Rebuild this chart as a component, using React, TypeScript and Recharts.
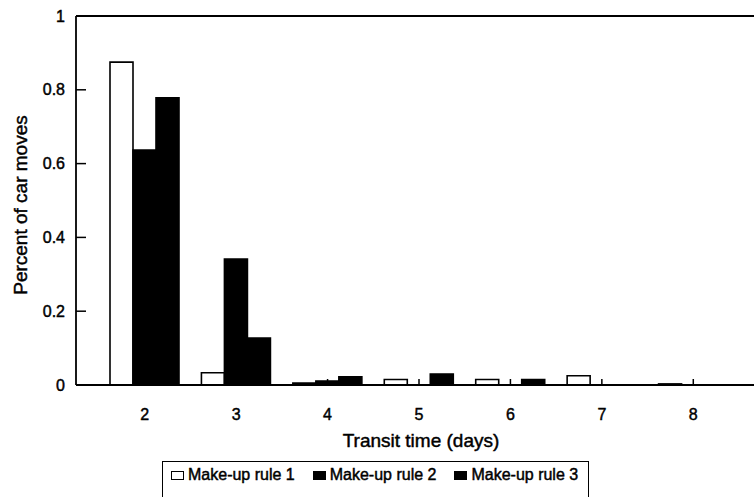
import { BarChart, Bar, XAxis, YAxis, ReferenceLine } from "recharts";

const DAYS = ["2", "3", "4", "5", "6", "7", "8"];
const RULE_1 = [0.875, 0.033, 0.005, 0.015, 0.015, 0.025, 0.003];
const RULE_2 = [0.637, 0.341, 0.011, 0, 0, 0, 0];
const RULE_3 = [0.778, 0.127, 0.022, 0.03, 0.015, 0, 0];
const Y_TICKS = [0, 0.2, 0.4, 0.6, 0.8, 1];
const SERIES = [
  { key: "rule1", label: "Make-up rule 1", fill: "#fff" },
  { key: "rule2", label: "Make-up rule 2", fill: "#000" },
  { key: "rule3", label: "Make-up rule 3", fill: "#000" },
];

const data = DAYS.map((d, i) => ({
  day: d,
  rule1: RULE_1[i],
  rule2: RULE_2[i],
  rule3: RULE_3[i],
}));

const FONT = '"Liberation Sans", Arial, sans-serif';
// scanned original has heavy-looking type; thicken slightly
const HEAVY = { WebkitTextStroke: "0.45px #000" } as const;

function YTick(props: any) {
  const { x, y, payload } = props;
  // x is the label anchor; the axis line sits 8px to the right
  return (
    <g>
      <line x1={x + 8} x2={x + 18} y1={y} y2={y} stroke="#000" strokeWidth={1.5} />
      <text
        x={x - 3}
        y={y}
        textAnchor="end"
        dominantBaseline="central"
        fontSize={16}
        fill="#000"
        stroke="#000"
        strokeWidth={0.45}
        fontFamily={FONT}
      >
        {String(payload.value)}
      </text>
    </g>
  );
}

function XTick(props: any) {
  const { x, y, payload } = props;
  return (
    <g>
      <line x1={x} x2={x} y1={y} y2={y - 6} stroke="#000" strokeWidth={1.5} />
      <text
        x={x}
        y={y + 29}
        textAnchor="middle"
        dominantBaseline="central"
        fontSize={16}
        fill="#000"
        stroke="#000"
        strokeWidth={0.45}
        fontFamily={FONT}
      >
        {payload.value}
      </text>
    </g>
  );
}

export default function App() {
  return (
    <div
      style={{
        position: "fixed",
        left: 0,
        top: 0,
        width: 754,
        height: 497,
        overflow: "hidden",
        background: "#fff",
        fontFamily: FONT,
        color: "#000",
      }}
    >
      <BarChart
        width={754}
        height={497}
        data={data}
        margin={{ top: 16, right: 0, left: 0, bottom: 82 }}
        barCategoryGap={11}
        barGap={0}
      >
        <XAxis
          dataKey="day"
          height={30}
          padding={{ left: 23, right: 15 }}
          axisLine={{ stroke: "#000", strokeWidth: 1.8 }}
          tickLine={false}
          tickSize={0}
          tickMargin={0}
          tick={<XTick />}
          interval={0}
        />
        <YAxis
          width={76}
          domain={[0, 1]}
          ticks={Y_TICKS}
          axisLine={{ stroke: "#000", strokeWidth: 1.8 }}
          tickLine={false}
          tickSize={8}
          tickMargin={0}
          tick={<YTick />}
          interval={0}
        />
        <ReferenceLine y={1} stroke="#000" strokeWidth={1.8} />
        {SERIES.map((s) => (
          <Bar
            key={s.key}
            dataKey={s.key}
            fill={s.fill}
            stroke="#000"
            strokeWidth={1.6}
            isAnimationActive={false}
          />
        ))}
      </BarChart>

      <div
        style={{
          position: "absolute",
          left: 21,
          top: 205,
          transform: "translate(-50%, -50%) rotate(-90deg)",
          whiteSpace: "nowrap",
          fontSize: 19,
          ...HEAVY,
        }}
      >
        Percent of car moves
      </div>

      <div
        style={{
          position: "absolute",
          left: 421,
          top: 441,
          transform: "translate(-50%, -50%)",
          whiteSpace: "nowrap",
          fontSize: 19,
          ...HEAVY,
        }}
      >
        Transit time (days)
      </div>

      <div
        style={{
          position: "absolute",
          left: 162,
          top: 461,
          height: 44,
          border: "1.8px solid #000",
          display: "flex",
          alignItems: "flex-start",
          paddingTop: 4,
          paddingLeft: 8,
          paddingRight: 10,
          gap: 18,
          boxSizing: "border-box",
          fontSize: 16,
          lineHeight: "18px",
          ...HEAVY,
        }}
      >
        {SERIES.map((s) => (
          <div key={s.key} style={{ display: "flex", alignItems: "center", gap: 4 }}>
            <span
              style={{
                display: "inline-block",
                width: 13,
                height: 9,
                background: s.fill,
                border: "1.5px solid #000",
                boxSizing: "border-box",
              }}
            />
            <span>{s.label}</span>
          </div>
        ))}
      </div>
    </div>
  );
}
